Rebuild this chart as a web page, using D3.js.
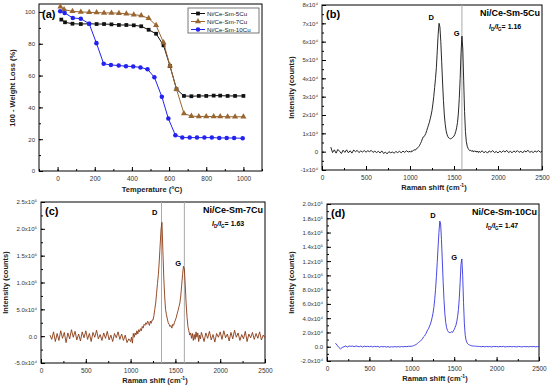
<!DOCTYPE html>
<html>
<head>
<meta charset="utf-8">
<script src="https://cdn.jsdelivr.net/npm/d3@7"></script>
<style>
body { margin: 0; background: #fff; }
svg { display: block; font-family: Arial, "Liberation Sans", sans-serif; }
</style>
</head>
<body>
<div id="chart"></div>
<script>
// ---- (a) TGA curves ----
var sampleNames = ["Ni/Ce-Sm-5Cu", "Ni/Ce-Sm-7Cu", "Ni/Ce-Sm-10Cu"];
var tempFive = [20, 40, 80, 125, 170, 210, 250, 290, 330, 370, 410, 450, 490, 530, 570, 605, 640, 680, 720, 760, 800, 840, 875, 915, 955, 1000];
var lossFive = [95.2, 93.5, 92.6, 92.4, 92.6, 92.4, 92.4, 92.2, 91.8, 91.8, 91.6, 91.0, 88.8, 86.3, 79.0, 66.0, 51.4, 47.2, 47.0, 47.2, 47.2, 47.4, 47.4, 47.2, 47.2, 47.2];
var tempSeven = [15, 35, 80, 125, 170, 210, 250, 290, 330, 370, 410, 450, 490, 530, 570, 605, 640, 680, 720, 760, 800, 840, 875, 915, 955, 1000];
var lossSeven = [103.2, 101.5, 100.4, 100.0, 99.8, 99.6, 99.4, 99.4, 99.2, 98.9, 98.3, 97.7, 96.0, 91.6, 80.8, 66.1, 51.4, 36.2, 34.5, 34.3, 34.3, 34.2, 34.2, 34.1, 34.1, 34.1];
var tempTen = [14, 38, 82, 125, 170, 209, 248, 287, 329, 368, 407, 446, 484, 521, 561, 596, 634, 671, 711, 750, 790, 830, 870, 910, 950, 996];
var lossTen = [100.4, 99.4, 96.2, 95.8, 92.6, 80.4, 67.4, 66.7, 66.3, 65.9, 65.7, 65.1, 64.0, 58.9, 46.7, 33.0, 22.5, 21.0, 21.0, 21.0, 21.0, 21.0, 20.8, 20.8, 20.7, 20.6];
var tempTicks = [0, 200, 400, 600, 800, 1000];
var weightTicks = [0, 20, 40, 60, 80, 100];

// ---- Raman spectra: shift grid (cm-1) ----
var shiftLow = d3.range(100, 1000, 20);   // 45 points
var shiftMid = d3.range(1000, 1800, 10);  // 80 points
var shiftHigh = d3.range(1800, 2501, 20); // 36 points
var shiftTicks = [0, 500, 1000, 1500, 2000, 2500];

// (b) 5Cu, in units of 1x10^4
var ramanFive = [
  0.25, -0.05, 0.1, -0.08, 0.12, 0.02, -0.1, 0.08, -0.04, 0.1,
  -0.06, 0.05, -0.08, 0.09, 0.0, 0.07, -0.05, 0.04, -0.02, 0.06,
  -0.03, 0.05, 0.0, 0.07, -0.04, 0.03, -0.05, 0.02, -0.07, 0.04,
  -0.1, -0.02, -0.12, 0.0, -0.06, -0.02, -0.08, 0.01, -0.05, 0.02,
  -0.06, 0.03, -0.04, 0.05, -0.02,
  0.02, -0.03, 0.05, 0.02, 0.08, 0.1, 0.08, 0.15, 0.18, 0.22,
  0.28, 0.35, 0.45, 0.55, 0.7, 0.8, 0.82, 0.9, 1.0, 1.15,
  1.3, 1.45, 1.6, 1.8, 2.0, 2.25, 2.6, 3.0, 3.5, 4.0,
  4.6, 5.5, 6.4, 7.0, 6.8, 6.0, 4.9, 3.8, 2.8, 2.0,
  1.5, 1.15, 0.95, 0.82, 0.75, 0.72, 0.7, 0.72, 0.75, 0.8,
  0.85, 0.95, 1.1, 1.3, 1.6, 2.1, 2.9, 4.0, 5.4, 6.3,
  5.6, 3.9, 2.2, 1.1, 0.55, 0.3, 0.18, 0.1, 0.05, 0.08,
  0.02, 0.06, -0.02, 0.05, 0.0, 0.04, -0.03, 0.03, -0.05, 0.02,
  -0.04, 0.05, -0.06, 0.02, -0.08, 0.04, -0.03, 0.06, -0.05, 0.01,
  -0.07, 0.03, -0.04, 0.05, -0.02, 0.07, -0.05, 0.02, -0.06, 0.04,
  -0.03, 0.06, -0.04, 0.03, -0.07, 0.05, -0.02, 0.08, -0.04, 0.02,
  -0.05, 0.04, -0.02, 0.06, -0.03, 0.02
];
var fiveTicks = [-1, 0, 1, 2, 3, 4, 5, 6, 7, 8];
var fiveLabels = ["-1x10\u2074", "0", "1x10\u2074", "2x10\u2074", "3x10\u2074", "4x10\u2074", "5x10\u2074", "6x10\u2074", "7x10\u2074", "8x10\u2074"];

// (c) 7Cu, in units of 1x10^5
var ramanSeven = [
  0.02, -0.06, 0.08, -0.1, 0.05, -0.08, 0.1, -0.04, 0.07, -0.12,
  0.06, -0.05, 0.12, -0.02, 0.09, -0.07, 0.04, -0.09, 0.08, -0.03,
  0.1, -0.06, 0.05, -0.1, 0.07, -0.02, 0.11, -0.05, 0.03, -0.08,
  0.06, -0.04, 0.09, -0.07, 0.02, -0.1, 0.05, -0.03, 0.08, -0.06,
  0.04, -0.08, 0.02, -0.12, -0.05,
  -0.1, -0.02, -0.13, 0.05, -0.02, 0.06, 0.02, 0.1, 0.04, 0.12,
  0.08, 0.14, 0.1, 0.18, 0.15, 0.22, 0.2, 0.25, 0.22, 0.28,
  0.25, 0.2, 0.28, 0.24, 0.3, 0.3, 0.38, 0.5, 0.62, 0.8,
  0.98, 1.15, 1.4, 1.7, 2.0, 2.12, 1.6, 1.1, 0.75, 0.5,
  0.4, 0.32, 0.25, 0.22, 0.18, 0.2, 0.15, 0.22, 0.2, 0.26,
  0.3, 0.35, 0.42, 0.48, 0.55, 0.62, 0.75, 0.95, 1.15, 1.3,
  1.25, 0.95, 0.6, 0.35, 0.18, 0.1, 0.02, 0.06, -0.04, 0.05,
  -0.08, 0.03, -0.06, 0.08, -0.02, 0.06, -0.1, 0.02, -0.05, 0.07,
  0.02, -0.1, 0.06, -0.04, 0.09, -0.07, 0.03, -0.11, 0.05, -0.02,
  0.08, -0.06, 0.1, -0.03, 0.04, -0.09, 0.07, -0.05, 0.11, -0.02,
  0.06, -0.08, 0.03, -0.05, 0.09, -0.1, 0.04, -0.03, 0.07, -0.06,
  0.05, -0.04, 0.08, -0.07, 0.02, -0.03
];
var sevenTicks = [-0.5, 0, 0.5, 1, 1.5, 2, 2.5];
var sevenLabels = ["-5.0x10\u2074", "0.0", "5.0x10\u2074", "1.0x10\u2075", "1.5x10\u2075", "2.0x10\u2075", "2.5x10\u2075"];

// (d) 10Cu, in units of 1x10^5
var ramanTen = [
  0.05, 0.02, -0.01, -0.03, -0.01, 0.0, 0.01, -0.005, 0.01, 0.005,
  0.01, 0.0, 0.01, 0.005, 0.0, 0.01, -0.005, 0.008, 0.0, 0.006,
  0.0, 0.008, -0.004, 0.006, 0.0, 0.005, -0.006, 0.004, -0.002, 0.003,
  -0.005, 0.002, -0.006, 0.0, -0.004, 0.003, -0.003, 0.002, -0.004, 0.003,
  -0.002, 0.004, 0.0, 0.006, 0.005,
  0.008, 0.01, 0.015, 0.02, 0.025, 0.03, 0.04, 0.05, 0.06, 0.07,
  0.08, 0.09, 0.1, 0.12, 0.14, 0.15, 0.17, 0.19, 0.22, 0.24,
  0.26, 0.29, 0.32, 0.36, 0.41, 0.47, 0.55, 0.66, 0.8, 0.98,
  1.18, 1.4, 1.6, 1.76, 1.72, 1.5, 1.2, 0.9, 0.65, 0.46,
  0.34, 0.27, 0.23, 0.21, 0.2, 0.2, 0.2, 0.21, 0.2, 0.22,
  0.24, 0.27, 0.3, 0.35, 0.42, 0.52, 0.68, 0.9, 1.15, 1.23,
  1.0, 0.62, 0.32, 0.16, 0.09, 0.06, 0.04, 0.03, 0.025, 0.02,
  0.015, 0.012, 0.01, 0.01, 0.008, 0.006, 0.008, 0.004, 0.006, 0.003,
  0.004, 0.0, 0.005, -0.002, 0.004, 0.0, 0.003, -0.003, 0.004, 0.001,
  0.003, -0.002, 0.004, 0.0, 0.005, -0.003, 0.002, 0.0, 0.004, -0.002,
  0.003, 0.0, -0.002, 0.004, 0.001, -0.003, 0.003, 0.0, 0.002, -0.002,
  0.003, 0.0, 0.004, -0.002, 0.002, 0.0
];
var tenTicks = [-0.2, 0, 0.2, 0.4, 0.6, 0.8, 1.0, 1.2, 1.4, 1.6, 1.8, 2.0];
var tenLabels = ["-2.0x10\u2074", "0.0", "2.0x10\u2074", "4.0x10\u2074", "6.0x10\u2074", "8.0x10\u2074", "1.0x10\u2075", "1.2x10\u2075", "1.4x10\u2075", "1.6x10\u2075", "1.8x10\u2075", "2.0x10\u2075"];

var ratioLabels = ["1.16", "1.63", "1.47"];

var shiftAll = shiftLow.concat(shiftMid, shiftHigh);

var svg = d3.select("#chart").append("svg")
    .attr("width", 550)
    .attr("height", 389);

function makePanel(box, xDomain, yDomain) {
    var p = {};
    p.x = d3.scaleLinear().domain(xDomain).range([box.left, box.right]);
    p.y = d3.scaleLinear().domain(yDomain).range([box.bottom, box.top]);
    p.g = svg.append("g");
    p.box = box;
    return p;
}

function drawAxes(p, xTicks, xMinor, yTicks, yLabels, yMinor) {
    var box = p.box;
    // minor ticks first
    p.g.append("g")
        .attr("transform", "translate(0," + box.bottom + ")")
        .call(d3.axisBottom(p.x).tickValues(xMinor).tickSize(-2).tickFormat(""))
        .call(function(g) { g.select(".domain").remove(); });
    p.g.append("g")
        .attr("transform", "translate(" + box.left + ",0)")
        .call(d3.axisLeft(p.y).tickValues(yMinor).tickSize(-2).tickFormat(""))
        .call(function(g) { g.select(".domain").remove(); });

    var xa = p.g.append("g")
        .attr("transform", "translate(0," + box.bottom + ")")
        .call(d3.axisBottom(p.x).tickValues(xTicks).tickSize(-4).tickPadding(5).tickSizeOuter(0)
            .tickFormat(d3.format("d")));
    xa.selectAll("text").style("font-size", "6.5px").attr("fill", "#333");
    xa.select(".domain").remove();

    var ya = p.g.append("g")
        .attr("transform", "translate(" + box.left + ",0)")
        .call(d3.axisLeft(p.y).tickValues(yTicks).tickSize(-4).tickPadding(4).tickSizeOuter(0)
            .tickFormat(function(d, i) { return yLabels[i]; }));
    ya.selectAll("text").style("font-size", "6px").attr("fill", "#333");
    ya.select(".domain").remove();

    p.g.append("rect")
        .attr("x", box.left).attr("y", box.top)
        .attr("width", box.right - box.left).attr("height", box.bottom - box.top)
        .attr("fill", "none").attr("stroke", "#000").attr("stroke-width", 1);
}

function axisTitles(p, xText, yText, xPos, yPos) {
    var xt = p.g.append("text")
        .attr("x", xPos[0]).attr("y", xPos[1])
        .attr("text-anchor", "middle")
        .style("font-size", "7.5px").style("font-weight", "bold").attr("fill", "#222");
    xt.append("tspan").text(xText[0]);
    xt.append("tspan").attr("dy", -3).style("font-size", "5px").text(xText[1]);
    xt.append("tspan").attr("dy", 3).text(xText[2]);

    p.g.append("text")
        .attr("transform", "translate(" + yPos[0] + "," + yPos[1] + ") rotate(-90)")
        .attr("text-anchor", "middle")
        .style("font-size", "7.5px").style("font-weight", "bold").attr("fill", "#222")
        .text(yText);
}

function panelLabel(p, txt, x, y) {
    p.g.append("text").attr("x", x).attr("y", y)
        .style("font-size", "11px").style("font-weight", "bold")
        .text(txt);
}

// ================= (a) =================
var pa = makePanel({left: 39, right: 262, top: 4, bottom: 171}, [-100, 1100], [0, 105]);
drawAxes(pa, tempTicks, d3.range(-100, 1101, 100), weightTicks, weightTicks.map(String), d3.range(0, 105, 10));
axisTitles(pa, ["Temperature (", "o", "C)"], "100 - Weight Loss (%)", [152, 192], [15, 88]);
panelLabel(pa, "(a)", 42, 18);

var tgaSeries = [
    {t: tempFive, w: lossFive, color: "#111", symbol: d3.symbolSquare, size: 14},
    {t: tempSeven, w: lossSeven, color: "#9a6630", symbol: d3.symbolTriangle, size: 16},
    {t: tempTen, w: lossTen, color: "#2323f0", symbol: d3.symbolCircle, size: 16}
];

tgaSeries.forEach(function(s) {
    var pts = s.t.map(function(t, i) { return [t, s.w[i]]; });
    pa.g.append("path")
        .datum(pts)
        .attr("fill", "none")
        .attr("stroke", s.color)
        .attr("stroke-width", 1)
        .attr("d", d3.line().x(function(d) { return pa.x(d[0]); }).y(function(d) { return pa.y(d[1]); }));
    pa.g.selectAll(null)
        .data(pts)
        .enter()
        .append("path")
            .attr("transform", function(d) { return "translate(" + pa.x(d[0]) + "," + pa.y(d[1]) + ")"; })
            .attr("d", d3.symbol().type(s.symbol).size(s.size))
            .attr("fill", s.color);
});

// legend
var lg = pa.g.append("g");
lg.append("rect").attr("x", 188).attr("y", 8).attr("width", 71).attr("height", 25)
    .attr("fill", "#fff").attr("stroke", "#555").attr("stroke-width", 0.8);
tgaSeries.forEach(function(s, i) {
    var yy = 13.5 + i * 8;
    lg.append("line").attr("x1", 191).attr("x2", 205).attr("y1", yy).attr("y2", yy)
        .attr("stroke", s.color).attr("stroke-width", 1);
    lg.append("path").attr("transform", "translate(198," + yy + ")")
        .attr("d", d3.symbol().type(s.symbol).size(s.size)).attr("fill", s.color);
    lg.append("text").attr("x", 207).attr("y", yy + 2.2)
        .style("font-size", "6.2px").attr("fill", "#222").text(sampleNames[i]);
});

// ================= Raman panels =================
function ramanPanel(box, yDomain, yTicks, yLabels, yMinorStep, values, color, sampleIdx, opts) {
    var p = makePanel(box, [0, 2500], yDomain);
    drawAxes(p, shiftTicks, d3.range(0, 2501, 250), yTicks, yLabels,
        d3.range(yDomain[0], yDomain[1] + 1e-9, yMinorStep));
    axisTitles(p, ["Raman shift (cm", "-1", ")"], "Intensity (counts)",
        [(box.left + box.right) / 2 + 2, box.bottom + 20], [opts.yTitleX, (box.top + box.bottom) / 2]);

    opts.vlines.forEach(function(v) {
        p.g.append("line")
            .attr("x1", p.x(v)).attr("x2", p.x(v))
            .attr("y1", box.top).attr("y2", box.bottom)
            .attr("stroke", "#aaa").attr("stroke-width", 1);
    });

    var pts = shiftAll.map(function(s, i) { return [s, values[i]]; });
    p.g.append("path")
        .datum(pts)
        .attr("fill", "none")
        .attr("stroke", color)
        .attr("stroke-width", 0.9)
        .attr("d", d3.line().x(function(d) { return p.x(d[0]); }).y(function(d) { return p.y(d[1]); }));

    panelLabel(p, opts.label, box.left + 4, box.top + 13);
    p.g.append("text").attr("x", box.right - 2).attr("y", box.top + 11)
        .attr("text-anchor", "end")
        .style("font-size", "9px").style("font-weight", "bold")
        .text(sampleNames[sampleIdx]);
    var r = p.g.append("text").attr("x", box.right - 53).attr("y", box.top + 24)
        .style("font-size", "7px").style("font-weight", "bold");
    r.append("tspan").style("font-style", "italic").text("I");
    r.append("tspan").attr("dy", 2).style("font-size", "4.5px").text("D");
    r.append("tspan").attr("dy", -2).style("font-style", "italic").text("/I");
    r.append("tspan").attr("dy", 2).style("font-size", "4.5px").text("G");
    r.append("tspan").attr("dy", -2).text("= " + ratioLabels[sampleIdx]);

    p.g.append("text").attr("x", p.x(opts.d[0])).attr("y", p.y(opts.d[1]))
        .attr("text-anchor", "middle").style("font-size", "7.5px").style("font-weight", "bold").text("D");
    p.g.append("text").attr("x", p.x(opts.gLabel[0])).attr("y", p.y(opts.gLabel[1]))
        .attr("text-anchor", "middle").style("font-size", "7.5px").style("font-weight", "bold").text("G");
    return p;
}

ramanPanel({left: 322, right: 542, top: 5, bottom: 170}, [-1, 8], fiveTicks, fiveLabels, 0.5,
    ramanFive, "#111", 0, {label: "(b)", vlines: [1590], d: [1240, 7.2], gLabel: [1530, 6.3], yTitleX: 294});

ramanPanel({left: 41, right: 265, top: 202, bottom: 363}, [-0.5, 2.5], sevenTicks, sevenLabels, 0.25,
    ramanSeven, "#8a3a14", 1, {label: "(c)", vlines: [1345, 1600], d: [1270, 2.25], gLabel: [1530, 1.3], yTitleX: 8});

ramanPanel({left: 327, right: 539, top: 204, bottom: 361}, [-0.2, 2.0], tenTicks, tenLabels, 0.1,
    ramanTen, "#3434e0", 2, {label: "(d)", vlines: [], d: [1250, 1.8], gLabel: [1500, 1.22], yTitleX: 294});
</script>
</body>
</html>
